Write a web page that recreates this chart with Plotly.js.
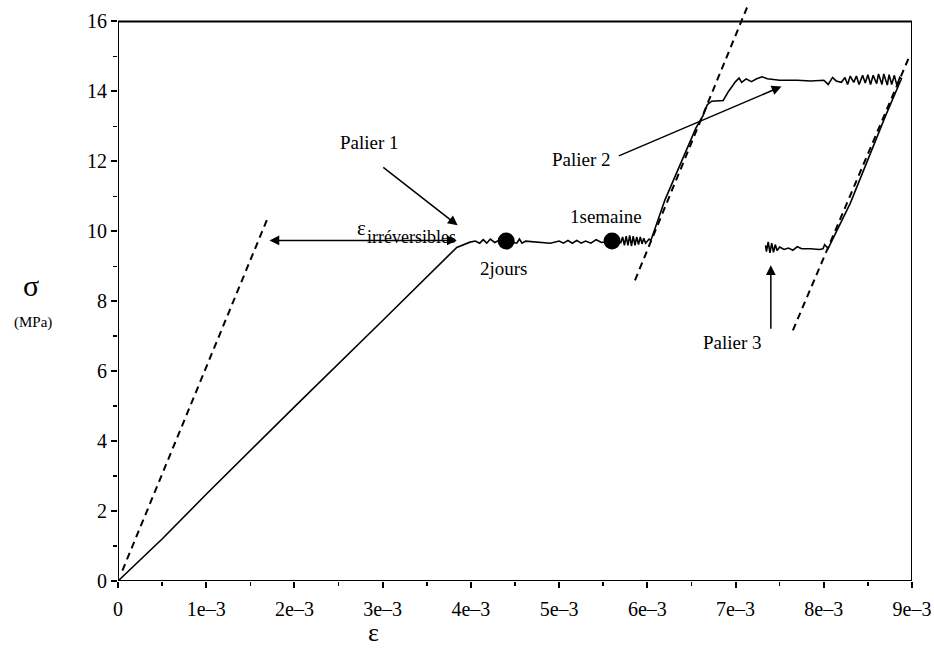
<!DOCTYPE html>
<html>
<head>
<meta charset="utf-8">
<script src="https://cdn.plot.ly/plotly-3.0.1.min.js"></script>
<style>html,body{margin:0;padding:0;background:#fff;}#chart{width:934px;height:656px;}</style>
</head>
<body>
<div id="chart"></div>
<script>
// Measured stress–strain curve (strain, stress in MPa)
var curveX = [0, 0.5e-3, 1.0e-3, 2.0e-3, 3.0e-3, 3.84e-3, 3.99e-3, 4.05e-3, 4.10e-3, 4.14e-3, 4.18e-3, 4.22e-3, 4.27e-3, 4.32e-3, 4.40e-3,
  4.52e-3, 4.55e-3, 4.58e-3, 4.62e-3, 4.75e-3, 4.90e-3, 5.00e-3, 5.05e-3, 5.10e-3, 5.15e-3, 5.20e-3, 5.25e-3, 5.30e-3, 5.36e-3, 5.42e-3, 5.48e-3, 5.60e-3,
  5.70e-3, 5.72e-3, 5.74e-3, 5.76e-3, 5.78e-3, 5.80e-3, 5.82e-3, 5.84e-3, 5.86e-3, 5.88e-3, 5.90e-3, 5.92e-3, 5.94e-3, 5.96e-3, 5.98e-3, 6.02e-3, 6.04e-3,
  6.20e-3, 6.40e-3, 6.55e-3, 6.63e-3, 6.68e-3, 6.73e-3, 6.86e-3, 6.92e-3, 7.00e-3, 7.04e-3, 7.07e-3, 7.12e-3, 7.18e-3, 7.24e-3, 7.30e-3, 7.36e-3,
  7.50e-3, 7.70e-3, 7.85e-3, 8.00e-3, 8.05e-3, 8.10e-3, 8.14e-3, 8.20e-3, 8.24e-3, 8.27e-3, 8.30e-3, 8.34e-3, 8.37e-3, 8.40e-3, 8.44e-3, 8.47e-3,
  8.50e-3, 8.53e-3, 8.56e-3, 8.60e-3, 8.62e-3, 8.66e-3, 8.68e-3, 8.72e-3, 8.74e-3, 8.77e-3, 8.80e-3, 8.83e-3, 8.86e-3, 8.88e-3,
  8.70e-3, 8.50e-3, 8.30e-3, 8.05e-3,
  8.01e-3, 7.99e-3, 7.95e-3, 7.85e-3, 7.75e-3, 7.70e-3, 7.65e-3, 7.60e-3, 7.55e-3, 7.50e-3, 7.47e-3, 7.45e-3, 7.43e-3, 7.41e-3, 7.39e-3, 7.37e-3, 7.35e-3, 7.34e-3];
var curveY = [0, 1.20, 2.48, 4.98, 7.45, 9.54, 9.69, 9.72, 9.66, 9.76, 9.66, 9.78, 9.68, 9.74, 9.72,
  9.66, 9.78, 9.66, 9.72, 9.70, 9.66, 9.72, 9.66, 9.74, 9.66, 9.74, 9.66, 9.72, 9.66, 9.76, 9.68, 9.72,
  9.68, 9.84, 9.60, 9.86, 9.60, 9.88, 9.58, 9.86, 9.60, 9.84, 9.62, 9.84, 9.64, 9.80, 9.66, 9.78, 9.74,
  10.90, 12.10, 12.95, 13.30, 13.62, 13.72, 13.74, 14.00, 14.28, 14.38, 14.26, 14.36, 14.28, 14.36, 14.42, 14.36,
  14.32, 14.32, 14.30, 14.32, 14.20, 14.40, 14.30, 14.26, 14.40, 14.20, 14.44, 14.26, 14.44, 14.20, 14.46, 14.24,
  14.48, 14.20, 14.46, 14.22, 14.50, 14.20, 14.50, 14.18, 14.48, 14.20, 14.46, 14.16, 14.40, 14.36,
  13.30, 12.05, 10.80, 9.51,
  9.62, 9.50, 9.48, 9.50, 9.50, 9.56, 9.46, 9.52, 9.48, 9.55, 9.45, 9.62, 9.40, 9.66, 9.38, 9.70, 9.42, 9.60];

// Elastic reference slopes (dashed)
var elastic1X = [0.05e-3, 1.70e-3];
var elastic1Y = [0.30, 10.40];
var elastic2X = [5.86e-3, 7.13e-3];
var elastic2Y = [8.60, 16.40];
var elastic3X = [7.65e-3, 8.96e-3];
var elastic3Y = [7.17, 14.94];

// Holding points (2 days, 1 week)
var holdX = [4.40e-3, 5.60e-3];
var holdY = [9.72, 9.72];

var xTickVals = [0, 1e-3, 2e-3, 3e-3, 4e-3, 5e-3, 6e-3, 7e-3, 8e-3, 9e-3];
var xTickText = ['0', '1e\u20133', '2e\u20133', '3e\u20133', '4e\u20133', '5e\u20133', '6e\u20133', '7e\u20133', '8e\u20133', '9e\u20133'];
var yTickVals = [0, 2, 4, 6, 8, 10, 12, 14, 16];
var yTickText = ['0', '2', '4', '6', '8', '10', '12', '14', '16'];

var serif = '"Liberation Serif", "DejaVu Serif", serif';
var dashStyle = '7px,5px';

var traces = [
  {x: curveX, y: curveY, mode: 'lines', line: {color: '#000', width: 1.6}, hoverinfo: 'skip'},
  {x: elastic1X, y: elastic1Y, mode: 'lines', line: {color: '#000', width: 2, dash: dashStyle}},
  {x: elastic2X, y: elastic2Y, mode: 'lines', line: {color: '#000', width: 2, dash: dashStyle}},
  {x: elastic3X, y: elastic3Y, mode: 'lines', line: {color: '#000', width: 2, dash: dashStyle}},
  {x: holdX, y: holdY, mode: 'markers', marker: {color: '#000', size: 17}}
];

var ann = function(o){ return Object.assign({showarrow: false, xref: 'x', yref: 'y', xanchor: 'center', yanchor: 'middle',
  font: {family: serif, size: 19, color: '#000'}}, o); };
var arrow = function(x0, y0, x1, y1, side){
  return {x: x1, y: y1, ax: x0, ay: y0, xref: 'x', yref: 'y', axref: 'x', ayref: 'y', text: '',
    showarrow: true, arrowhead: 2, arrowsize: 1.3, arrowwidth: 1.5, arrowcolor: '#000', arrowside: side || 'end', standoff: 0, startstandoff: 0};
};

var layout = {
  width: 934, height: 656,
  margin: {l: 118, r: 22, t: 4, b: 75},
  paper_bgcolor: '#fff', plot_bgcolor: '#fff',
  showlegend: false,
  font: {family: serif, color: '#000', size: 20},
  xaxis: {range: [0, 9e-3], tickmode: 'array', tickvals: xTickVals, ticktext: xTickText,
    showline: false, showgrid: false, zeroline: false, ticks: 'outside', ticklen: 6, tickwidth: 2, tickcolor: '#000',
    ticklabelstandoff: 4,
    tickfont: {family: serif, size: 20, color: '#000'},
    minor: {dtick: 0.5e-3, tick0: 0, ticks: 'outside', ticklen: 4, tickwidth: 1.5, tickcolor: '#000', showgrid: false}},
  yaxis: {range: [0, 16.5], tickmode: 'array', tickvals: yTickVals, ticktext: yTickText,
    showline: false, showgrid: false, zeroline: false, ticks: 'outside', ticklen: 6, tickwidth: 2, tickcolor: '#000',
    tickfont: {family: serif, size: 20, color: '#000'},
    minor: {dtick: 1, tick0: 0, ticks: 'outside', ticklen: 4, tickwidth: 1.5, tickcolor: '#000', showgrid: false}},
  shapes: [
    {type: 'rect', xref: 'x', yref: 'y', x0: 0, x1: 9e-3, y0: 0, y1: 16, line: {color: '#000', width: 2}, layer: 'above'}
  ],
  annotations: [
    ann({x: 2.85e-3, y: 12.55, text: 'Palier 1'}),
    arrow(2.99e-3, 11.86, 3.85e-3, 10.17),
    ann({x: 2.76e-3, y: 10.10, text: '\u03b5', font: {family: serif, size: 21, color: '#000'}}),
    ann({x: 3.33e-3, y: 9.85, text: 'irr\u00e9versibles', font: {family: serif, size: 18, color: '#000'}}),
    arrow(1.70e-3, 9.74, 3.84e-3, 9.74, 'end+start'),
    ann({x: 4.38e-3, y: 8.94, text: '2jours'}),
    ann({x: 5.53e-3, y: 10.43, text: '1semaine'}),
    ann({x: 5.25e-3, y: 12.06, text: 'Palier 2'}),
    arrow(5.66e-3, 12.14, 7.52e-3, 14.14),
    ann({x: 6.96e-3, y: 6.83, text: 'Palier 3'}),
    arrow(7.40e-3, 7.17, 7.40e-3, 9.03),
    {xref: 'paper', yref: 'paper', x: (373 - 118) / 794, y: -(632 - 581) / 577, xanchor: 'center', yanchor: 'middle', text: '\u03b5', showarrow: false,
      font: {family: serif, size: 26, color: '#000'}},
    {xref: 'paper', yref: 'paper', x: (31 - 118) / 794, y: (581 - 285) / 577, xanchor: 'center', yanchor: 'middle', text: '\u03c3', showarrow: false,
      font: {family: serif, size: 30, color: '#000'}},
    {xref: 'paper', yref: 'paper', x: (33 - 118) / 794, y: (581 - 322) / 577, xanchor: 'center', yanchor: 'middle', text: '(MPa)', showarrow: false,
      font: {family: serif, size: 15, color: '#000'}}
  ]
};

Plotly.newPlot('chart', traces, layout, {displayModeBar: false, staticPlot: true});
</script>
</body>
</html>
